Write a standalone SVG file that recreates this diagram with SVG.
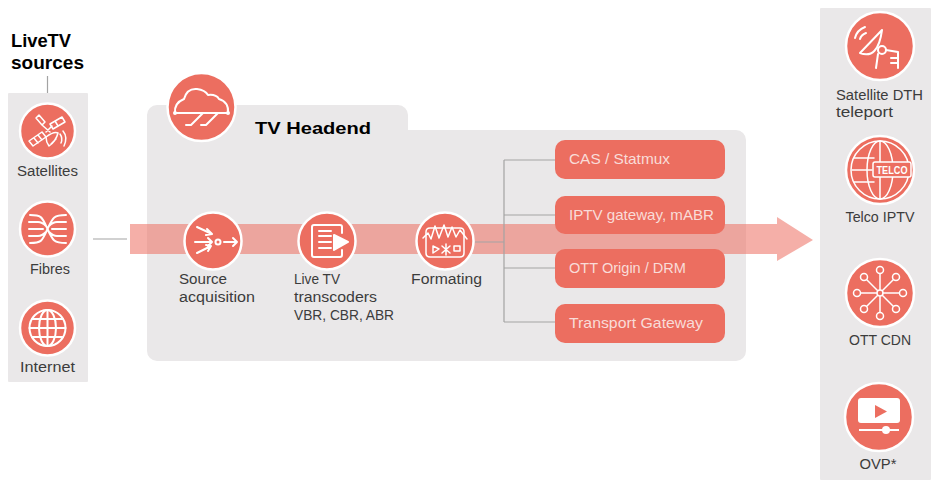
<svg xmlns="http://www.w3.org/2000/svg" width="931" height="480" viewBox="0 0 931 480">
<defs><style>
.panel{fill:#eae8e9}
.disc{fill:#ec6e60;stroke:#fff;stroke-width:2.500}
.ic{fill:none;stroke:#fff;stroke-width:2;stroke-linecap:round;stroke-linejoin:round}
.icf{fill:#fff;stroke:none}
.ln{fill:none;stroke:#a3a3a3;stroke-width:1.200}
.box{fill:#ec6e60}
text{font-family:"Liberation Sans",Arial,sans-serif}
.t{font-size:14px;fill:#3c3c3c}
.b{font-size:14.5px;fill:#f9dcd8}
.h{font-size:17.5px;font-weight:bold;fill:#000}
</style></defs>
<rect width="931" height="480" fill="#fff"/>
<rect class="panel" x="8" y="93" width="80" height="289" rx="1"/>
<rect class="panel" x="820" y="8" width="111" height="472" rx="1"/>
<path class="panel" d="M147 115a10 10 0 0 1 10-10h241a10 10 0 0 1 10 10v15h328a10 10 0 0 1 10 10v211a10 10 0 0 1-10 10H157a10 10 0 0 1-10-10z"/>
<path d="M130 224H777V217L813 240L777 261V254H130z" fill="#ec6e60" fill-opacity=".55"/>
<g id="connectors">
<path class="ln" d="M47.500 76V93M93 239H127M475 242H504M504 160V322M504 160H555M504 215H555M504 268H555M504 322H555"/>
</g>
<text class="h" x="11" y="47" textLength="60" lengthAdjust="spacingAndGlyphs">LiveTV</text>
<text class="h" x="11" y="69" textLength="73" lengthAdjust="spacingAndGlyphs">sources</text>
<g id="satellites">
<circle class="disc" cx="47.500" cy="131" r="27.500"/>
<g class="ic" stroke-width="1.500" style="stroke-width:1.500">
<path d="M29 141L42 132L46 137L33 146zM34 138L38 143M38 135L42 140M50 124L62 117L65 122L53 129zM55 121L58 126"/>
<path d="M36 118L39 115L45 122L42 125zM42 125L50 132M46 132L52 126"/>
<path d="M46 137Q54 131 58 133Q56 141 49 146Q46 142 46 137zM56 139L51 144M60 134Q63 138 61 143M63 131Q68 137 64 146"/>
</g>
<text class="t" x="47.500" y="176" text-anchor="middle" textLength="61" lengthAdjust="spacingAndGlyphs">Satellites</text>
</g>
<g id="fibres">
<circle class="disc" cx="47.500" cy="229" r="27.500"/>
<path class="ic" d="M30 215C42 215 42 217 47.500 229C53 241 54 243 66 243M30 243C42 243 42 241 47.500 229C53 217 54 215 66 215M29 222H38C42 222 44 224 46 226M29 229H43M29 236H38C42 236 44 234 46 232M66 222H57C53 222 51 224 49 226M66 229H52M66 236H57C53 236 51 234 49 232"/>
<text class="t" x="50" y="274" text-anchor="middle" textLength="40" lengthAdjust="spacingAndGlyphs">Fibres</text>
</g>
<g id="internet">
<circle class="disc" cx="47.500" cy="328" r="27.500"/>
<g class="ic"><circle cx="47.500" cy="328" r="18"/><ellipse cx="47.500" cy="328" rx="8.500" ry="18"/><path d="M47.500 310V346M29.500 328H65.500M32 319H63M32 337H63"/></g>
<text class="t" x="47.500" y="372" text-anchor="middle" textLength="55" lengthAdjust="spacingAndGlyphs">Internet</text>
</g>
<g id="headend">
<circle class="disc" cx="201.500" cy="107" r="34"/>
<g class="ic"><path d="M175 113Q174 103 184 99Q187 88 197 89Q205 90 208 95Q216 94 219 99Q229 102 228 113ZM203 113L191 125H186M218 113L206 125H201"/></g>
<circle class="icf" cx="175" cy="113" r="2"/><circle class="icf" cx="228" cy="113" r="2"/>
<text x="255" y="134" font-size="16.500" font-weight="bold" fill="#000" textLength="116" lengthAdjust="spacingAndGlyphs">TV Headend</text>
</g>
<g id="source">
<circle class="disc" cx="213" cy="241" r="28.500"/>
<g class="ic"><path d="M197 227L212 234M207 229L212 234L206 235M195 242H212M208 238L212 242L208 246M197 253L211 246M206 245L211 246L208 251M224 242H237M233 238L237 242L233 246"/><circle cx="218" cy="242" r="2.500"/></g>
<text class="t" x="179" y="284" textLength="48" lengthAdjust="spacingAndGlyphs">Source</text>
<text class="t" x="179" y="302" textLength="76" lengthAdjust="spacingAndGlyphs">acquisition</text>
</g>
<g id="transcoders">
<circle class="disc" cx="327" cy="241" r="28.500"/>
<g class="ic"><path d="M342 250V255Q342 257 340 257H314Q312 257 312 255V227Q312 225 314 225H340Q342 225 342 227V233"/><path d="M319 231H331M319 236H331M319 242H331M319 248H331"/><path d="M334 235L348 242L334 250Z" fill="#fff"/></g>
<text class="t" x="294" y="284" textLength="46" lengthAdjust="spacingAndGlyphs">Live TV</text>
<text class="t" x="294" y="302" textLength="83" lengthAdjust="spacingAndGlyphs">transcoders</text>
<text class="t" x="294" y="320" textLength="100" lengthAdjust="spacingAndGlyphs">VBR, CBR, ABR</text>
</g>
<g id="formatting">
<circle class="disc" cx="445" cy="241" r="28.500"/>
<g class="ic" style="stroke-width:1.500"><path d="M426 232Q426 228 430 228H460Q464 228 464 232V253Q464 257 460 257H430Q426 257 426 253Z"/><path d="M423 238L428 233L431 239L435 226L439 238L444 225L448 237L452 227L456 237L460 230L467 239" stroke-width="1.500"/><path d="M433 246L439 249L433 253ZM446 244V255M442 246L450 253M450 246L442 253M454 246H460V251H454Z"/></g>
<text class="t" x="411" y="284" textLength="71" lengthAdjust="spacingAndGlyphs">Formating</text>
</g>
<g id="cas"><rect class="box" x="555" y="140" width="170" height="39" rx="10"/><text class="b" x="569" y="164" textLength="101" lengthAdjust="spacingAndGlyphs">CAS / Statmux</text></g>
<g id="iptv"><rect class="box" x="555" y="196" width="170" height="38" rx="10"/><text class="b" x="569" y="220" textLength="145" lengthAdjust="spacingAndGlyphs">IPTV gateway, mABR</text></g>
<g id="ott"><rect class="box" x="555" y="249" width="170" height="39" rx="10"/><text class="b" x="569" y="273" textLength="117" lengthAdjust="spacingAndGlyphs">OTT Origin / DRM</text></g>
<g id="transport"><rect class="box" x="555" y="304" width="170" height="39" rx="10"/><text class="b" x="569" y="328" textLength="134" lengthAdjust="spacingAndGlyphs">Transport Gateway</text></g>
<g id="teleport">
<circle class="disc" cx="880" cy="46" r="34"/>
<g class="ic"><path d="M882 30L860 53Q878 60 882 30ZM878 54L876 68M886 50L898 52V68M891 58H898M891 63H898M855 38Q857 30 865 27M860 39Q861 35 866 33"/><circle cx="882" cy="50" r="4" fill="#ec6e60"/></g>
<text class="t" x="836" y="100" textLength="87" lengthAdjust="spacingAndGlyphs">Satellite DTH</text>
<text class="t" x="836" y="117" textLength="57" lengthAdjust="spacingAndGlyphs">teleport</text>
</g>
<g id="telco">
<circle class="disc" cx="880" cy="170" r="34"/>
<g class="ic" style="stroke-width:1.500"><circle cx="880" cy="170" r="29"/><ellipse cx="880" cy="170" rx="13" ry="29"/><path d="M880 141V199M852 170H872M854 158H874M854 182H874"/></g>
<rect x="873" y="162" width="38" height="15" rx="2" fill="#ec6e60" stroke="#fff" stroke-width="1.500"/>
<text x="892" y="174" font-size="10.500" font-weight="bold" fill="#fff" text-anchor="middle" textLength="31" lengthAdjust="spacingAndGlyphs">TELCO</text>
<text class="t" x="880" y="222" text-anchor="middle" textLength="69" lengthAdjust="spacingAndGlyphs">Telco IPTV</text>
</g>
<g id="ottcdn">
<circle class="disc" cx="880" cy="293" r="34"/>
<g class="ic" style="stroke-width:1.500"><path d="M880 274V312M861 293H899M866.500 279.500L893.500 306.500M893.500 279.500L866.500 306.500"/>
<g fill="#ec6e60"><circle cx="880" cy="293" r="3"/><circle cx="880" cy="270" r="3.500"/><circle cx="880" cy="316" r="3.500"/><circle cx="857" cy="293" r="3.500"/><circle cx="903" cy="293" r="3.500"/><circle cx="864" cy="277" r="3.500"/><circle cx="896" cy="277" r="3.500"/><circle cx="864" cy="309" r="3.500"/><circle cx="896" cy="309" r="3.500"/></g></g>
<text class="t" x="880" y="345" text-anchor="middle" textLength="62" lengthAdjust="spacingAndGlyphs">OTT CDN</text>
</g>
<g id="ovp">
<circle class="disc" cx="879" cy="417" r="34"/>
<rect class="icf" x="858" y="398" width="42" height="25" rx="3"/>
<path d="M875 405L887 411.500L875 418Z" fill="#ec6e60"/>
<path d="M859 430H899" stroke="#fff" stroke-width="2" fill="none"/>
<circle class="icf" cx="886" cy="430" r="4"/>
<text class="t" x="878" y="469" text-anchor="middle" textLength="37" lengthAdjust="spacingAndGlyphs">OVP*</text>
</g>
</svg>
